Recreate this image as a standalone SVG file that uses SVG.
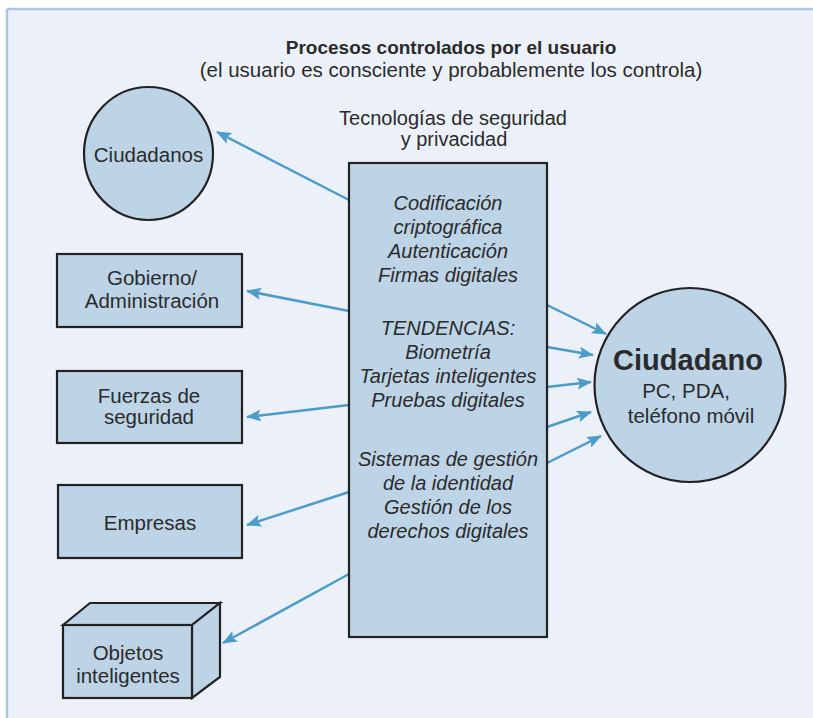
<svg xmlns="http://www.w3.org/2000/svg" width="813" height="718" viewBox="0 0 813 718">
  <style>
    .node { fill: #bdd3e6; stroke: #222; stroke-width: 2.2; }
    .lbl { font-family: "Liberation Sans", Arial, sans-serif; font-size: 20.5px; fill: #2b2b2b; text-anchor: middle; }
    .ital { font-family: "Liberation Sans", Arial, sans-serif; font-size: 20px; font-style: italic; fill: #2b2b2b; text-anchor: middle; }
    .head { font-family: "Liberation Sans", Arial, sans-serif; fill: #2b2b2b; text-anchor: middle; }
    .conn { stroke: #4b9bcb; stroke-width: 2.5; fill: none; marker-end: url(#arr); }
  </style>
  <defs>
    <marker id="arr" viewBox="0 0 15 12" refX="14" refY="6" markerWidth="15" markerHeight="12" markerUnits="userSpaceOnUse" orient="auto">
      <path d="M0,0 L15,6 L0,12 L3,6 Z" fill="#4b9bcb"/>
    </marker>
  </defs>

  <rect x="0" y="0" width="813" height="718" fill="#ffffff"/>
  <rect x="7" y="9" width="806" height="709" fill="#ecf1f9"/>
  <line x1="7" y1="9" x2="813" y2="9" stroke="#a9c7df" stroke-width="2.5"/>
  <line x1="7" y1="9" x2="7" y2="718" stroke="#a9c7df" stroke-width="2.5"/>

  <g id="header">
    <text class="head" x="451" y="54" font-size="19" font-weight="bold">Procesos controlados por el usuario</text>
    <text class="head" x="451" y="77" font-size="20.5">(el usuario es consciente y probablemente los controla)</text>
    <text class="head" x="453" y="125" font-size="20">Tecnologías de seguridad</text>
    <text class="head" x="454" y="146" font-size="20">y privacidad</text>
  </g>

  <g id="connectors">
    <line class="conn" x1="349" y1="200" x2="217" y2="132"/>
    <line class="conn" x1="349" y1="311" x2="247" y2="291"/>
    <line class="conn" x1="349" y1="405" x2="247" y2="417"/>
    <line class="conn" x1="349" y1="492" x2="247" y2="525"/>
    <line class="conn" x1="349" y1="574" x2="223" y2="643"/>
    <line class="conn" x1="547" y1="305" x2="606" y2="334"/>
    <line class="conn" x1="547" y1="347" x2="593" y2="355"/>
    <line class="conn" x1="547" y1="387" x2="591" y2="382"/>
    <line class="conn" x1="547" y1="427" x2="591" y2="412"/>
    <line class="conn" x1="547" y1="463" x2="601" y2="436"/>
  </g>

  <g id="tech">
    <rect class="node" x="349" y="163" width="198" height="474" stroke-width="2.6"/>
    <text class="ital" x="448" y="210">Codificación</text>
    <text class="ital" x="448" y="234">criptográfica</text>
    <text class="ital" x="448" y="258">Autenticación</text>
    <text class="ital" x="448" y="282">Firmas digitales</text>
    <text class="ital" x="448" y="335">TENDENCIAS:</text>
    <text class="ital" x="448" y="359">Biometría</text>
    <text class="ital" x="448" y="383">Tarjetas inteligentes</text>
    <text class="ital" x="448" y="407">Pruebas digitales</text>
    <text class="ital" x="448" y="466">Sistemas de gestión</text>
    <text class="ital" x="448" y="490">de la identidad</text>
    <text class="ital" x="448" y="514">Gestión de los</text>
    <text class="ital" x="448" y="538">derechos digitales</text>
  </g>

  <g id="ciudadanos">
    <ellipse class="node" cx="148.5" cy="153.5" rx="64.5" ry="66.5"/>
    <text class="lbl" x="148.5" y="162">Ciudadanos</text>
  </g>

  <g id="gobierno">
    <rect class="node" x="57" y="254" width="185" height="73"/>
    <text class="lbl" x="152" y="285">Gobierno/</text>
    <text class="lbl" x="152" y="308">Administración</text>
  </g>

  <g id="fuerzas">
    <rect class="node" x="57" y="371" width="185" height="72"/>
    <text class="lbl" x="149" y="403">Fuerzas de</text>
    <text class="lbl" x="149" y="424">seguridad</text>
  </g>

  <g id="empresas">
    <rect class="node" x="58" y="485" width="184" height="73"/>
    <text class="lbl" x="150" y="530">Empresas</text>
  </g>

  <g id="objetos">
    <polygon class="node" points="63,625 90,603 220,603 192,625"/>
    <polygon class="node" points="192,625 220,603 220,677 192,698"/>
    <rect class="node" x="63" y="625" width="129" height="73"/>
    <text class="lbl" x="128" y="660" font-size="21">Objetos</text>
    <text class="lbl" x="128" y="683" font-size="21">inteligentes</text>
  </g>

  <g id="ciudadano">
    <ellipse class="node" cx="690" cy="385" rx="95.5" ry="97"/>
    <text class="head" x="688" y="370" font-size="29" font-weight="bold" fill="#1a1a1a">Ciudadano</text>
    <text class="lbl" x="686" y="398" font-size="21">PC, PDA,</text>
    <text class="lbl" x="691" y="423" font-size="21">teléfono móvil</text>
  </g>
</svg>
